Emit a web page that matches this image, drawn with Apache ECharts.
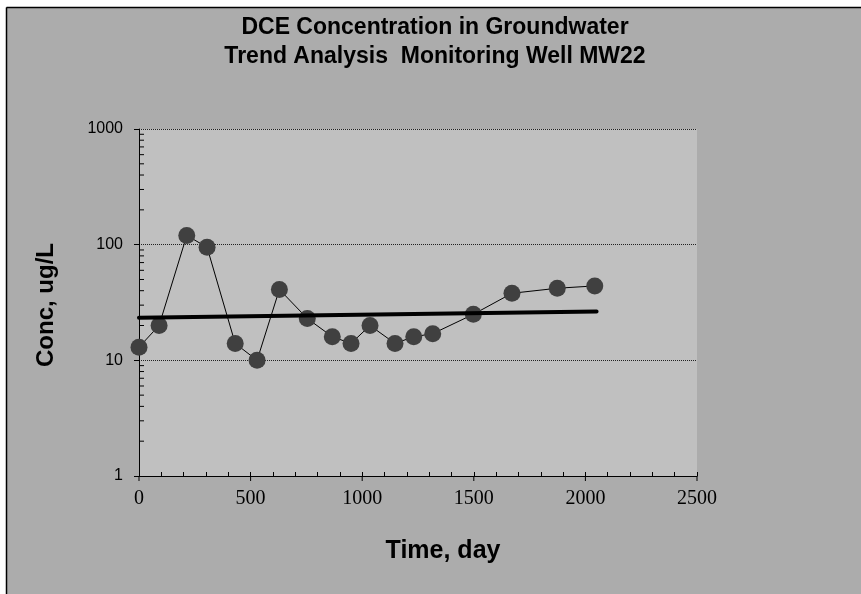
<!DOCTYPE html>
<html>
<head>
<meta charset="utf-8">
<script src="https://cdn.jsdelivr.net/npm/echarts@6/dist/echarts.min.js"></script>
<style>
html,body{margin:0;padding:0;background:#fff;}
#c{width:861px;height:594px;}
</style>
</head>
<body>
<div id="c"></div>
<script>
// Data
const days = [0, 90, 214, 305, 431, 529, 629, 754, 866, 950, 1035, 1147, 1231, 1316, 1498, 1671, 1874, 2042];
const conc = [13, 20, 120, 95, 14, 10, 41, 23, 16, 14, 20, 14, 16, 17, 25, 38, 42, 44];
const trendDays = [0, 2050];
const trendConc = [23.4, 26.5];
const xMajorTicks = [0, 500, 1000, 1500, 2000, 2500];
const yMinorTicks = [2, 3, 4, 5, 6, 7, 8, 9, 20, 30, 40, 50, 60, 70, 80, 90, 200, 300, 400, 500, 600, 700, 800, 900];
const titleLines = ['DCE Concentration in Groundwater', 'Trend Analysis  Monitoring Well MW22'];
const xTitle = 'Time, day';
const yTitle = 'Conc, ug/L';

const chart = echarts.init(document.getElementById('c'), null, {renderer: 'canvas'});
const SANS = '"Liberation Sans", Arial, sans-serif';
const SERIF = '"Liberation Serif", "Times New Roman", serif';

const option = {
  animation: false,
  backgroundColor: '#acacac',
  grid: {
    left: 139, right: 164, top: 129, bottom: 118,
    show: true, backgroundColor: '#c0c0c0', borderWidth: 0
  },
  xAxis: {
    type: 'value', min: 0, max: 2500, interval: 500,
    axisLine: {show: true, lineStyle: {color: '#000', width: 1}},
    axisTick: {show: true, inside: true, length: 4, lineStyle: {color: '#000'}},
    minorTick: {show: true, splitNumber: 5, length: 4, lineStyle: {color: '#000'}},
    splitLine: {show: false},
    axisLabel: {color: '#000', fontFamily: SERIF, fontSize: 20, margin: 13,
                formatter: v => String(v)}
  },
  yAxis: {
    type: 'log', logBase: 10, min: 1, max: 1000,
    axisLine: {show: true, lineStyle: {color: '#000', width: 1}},
    axisTick: {show: true, inside: false, length: 5, lineStyle: {color: '#000'}},
    splitLine: {show: true, lineStyle: {color: '#222', type: 'dotted', width: 1}},
    axisLabel: {color: '#000', fontFamily: SANS, fontSize: 16, margin: 16,
                formatter: v => String(Math.round(v))}
  },
  series: [
    {
      type: 'custom', silent: true, clip: false, z: 3,
      data: yMinorTicks.map(v => [0, v]),
      renderItem: function (params, api) {
        const p = api.coord([api.value(0), api.value(1)]);
        return {type: 'line', shape: {x1: p[0], y1: p[1], x2: p[0] + 5, y2: p[1]},
                style: {stroke: '#000', lineWidth: 1}};
      }
    },
    {
      type: 'custom', silent: true, clip: false, z: 3,
      data: xMajorTicks.map(v => [v, 1]),
      renderItem: function (params, api) {
        const p = api.coord([api.value(0), api.value(1)]);
        return {type: 'line', shape: {x1: p[0], y1: p[1], x2: p[0], y2: p[1] + 5},
                style: {stroke: '#000', lineWidth: 1}};
      }
    },
    {
      type: 'line', z: 4,
      data: days.map((d, i) => [d, conc[i]]),
      symbol: 'circle', symbolSize: 17,
      itemStyle: {color: '#404040', borderWidth: 0},
      lineStyle: {color: '#000', width: 1}
    },
    {
      type: 'line', z: 5,
      data: trendDays.map((d, i) => [d, trendConc[i]]),
      symbol: 'none',
      lineStyle: {color: '#000', width: 4, cap: 'round'}
    }
  ],
  graphic: [
    {type: 'rect', shape: {x: 0, y: 0, width: 861, height: 7}, style: {fill: '#fff'}, silent: true},
    {type: 'rect', shape: {x: 0, y: 0, width: 6, height: 594}, style: {fill: '#fff'}, silent: true},
    {type: 'line', shape: {x1: 6.5, y1: 7.5, x2: 861, y2: 7.5}, style: {stroke: '#000', lineWidth: 1.5}, silent: true},
    {type: 'line', shape: {x1: 6.5, y1: 7.5, x2: 6.5, y2: 594}, style: {stroke: '#000', lineWidth: 1.5}, silent: true},
    {type: 'text', x: 435, y: 28, silent: true,
     style: {text: titleLines[0], font: 'bold 23px ' + SANS, fill: '#000', textAlign: 'center', textVerticalAlign: 'middle'}},
    {type: 'text', x: 435, y: 57, silent: true,
     style: {text: titleLines[1], font: 'bold 23px ' + SANS, fill: '#000', textAlign: 'center', textVerticalAlign: 'middle'}},
    {type: 'text', x: 443, y: 551, silent: true,
     style: {text: xTitle, font: 'bold 25px ' + SANS, fill: '#000', textAlign: 'center', textVerticalAlign: 'middle'}},
    {type: 'text', x: 46, y: 305, rotation: Math.PI / 2, silent: true,
     style: {text: yTitle, font: 'bold 24px ' + SANS, fill: '#000', textAlign: 'center', textVerticalAlign: 'middle'}}
  ]
};
chart.setOption(option);
</script>
</body>
</html>
